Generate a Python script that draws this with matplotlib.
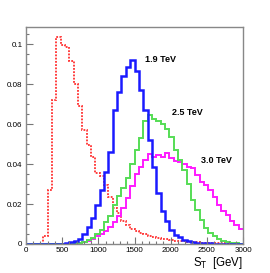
import numpy as np
import matplotlib
matplotlib.use("Agg")
import matplotlib.pyplot as plt
from matplotlib.ticker import MultipleLocator

# S_T distributions, 50 bins of 60 GeV from 0 to 3000 GeV
bin_edges = np.linspace(0, 3000, 51)

bkg = [0, 0, 0, 0, 0.004, 0.027, 0.072, 0.1035, 0.0995, 0.0985,
       0.0919, 0.080, 0.069, 0.057, 0.0495, 0.0437, 0.0355, 0.034, 0.0296, 0.0237,
       0.0182, 0.0156, 0.0116, 0.0096, 0.0076, 0.0063, 0.0056, 0.0048, 0.0042, 0.0036,
       0.0031, 0.0027, 0.0023, 0.0020, 0.0017, 0.0015, 0.0013, 0.0011, 0.0010, 0.0008,
       0.0007, 0.0006, 0.0005, 0.0005, 0.0004, 0.0004, 0.0003, 0.0003, 0.0003, 0.0002]

sig_19 = [0, 0, 0, 0, 0, 0, 0, 0, 0, 0.0003,
          0.0008, 0.0016, 0.0027, 0.005, 0.0085, 0.013, 0.0195, 0.027, 0.036, 0.046,
          0.067, 0.0761, 0.0844, 0.0885, 0.0922, 0.0869, 0.0773, 0.0673, 0.052, 0.0387,
          0.0254, 0.0163, 0.0113, 0.0071, 0.0046, 0.0033, 0.0021, 0.0013, 0.0010, 0.0007,
          0.0005, 0.0004, 0.0003, 0.0002, 0.0002, 0.0001, 0.0001, 0.0001, 0, 0]

sig_25 = [0, 0, 0, 0, 0, 0, 0, 0, 0, 0,
          0, 0.0003, 0.0007, 0.0012, 0.0018, 0.003, 0.0052, 0.007, 0.011, 0.014,
          0.0195, 0.024, 0.028, 0.0333, 0.040, 0.047, 0.053, 0.0617, 0.0645, 0.0628,
          0.0616, 0.0603, 0.0578, 0.0536, 0.047, 0.042, 0.037, 0.030, 0.022, 0.017,
          0.012, 0.008, 0.0055, 0.0038, 0.0026, 0.0016, 0.0010, 0.0006, 0.0004, 0.0002]

sig_30 = [0, 0, 0, 0, 0, 0, 0, 0, 0, 0,
          0, 0, 0.0005, 0.0010, 0.0016, 0.0025, 0.0038, 0.005, 0.0065, 0.0085,
          0.011, 0.014, 0.018, 0.023, 0.029, 0.035, 0.0385, 0.042, 0.0449, 0.0437,
          0.0444, 0.0437, 0.0454, 0.0429, 0.0415, 0.0409, 0.0399, 0.0387, 0.0379, 0.0345,
          0.0312, 0.0296, 0.0271, 0.0237, 0.0196, 0.0163, 0.0146, 0.0113, 0.0096, 0.0076]

labels = ["1.9 TeV", "2.5 TeV", "3.0 TeV"]
label_pos = [(1650, 0.0922), (2020, 0.0661), (2420, 0.042)]

plt.rcParams["font.family"] = ["Liberation Sans", "DejaVu Sans"]

fig = plt.figure(figsize=(2.7, 2.73), dpi=100)
ax = fig.add_axes([26 / 270, 1 - 244 / 273, 217 / 270, 217 / 273])

ax.stairs(bkg, bin_edges, baseline=None, color="#ff3030", lw=1.3, ls=(0, (1, 0.8)))
ax.stairs(sig_30, bin_edges, baseline=None, color="#ff1aff", lw=1.4)
ax.stairs(sig_25, bin_edges, baseline=None, color="#55dd55", lw=1.4)
ax.stairs(sig_19, bin_edges, baseline=None, color="#1a1aff", lw=1.8)

for text, (tx, ty) in zip(labels, label_pos):
    ax.text(tx, ty, text, fontsize=6.5, fontweight="bold", va="center", ha="left")

ax.set_xlim(0, 3000)
ax.set_ylim(0, 0.1087)
ax.xaxis.set_major_locator(MultipleLocator(500))
ax.xaxis.set_minor_locator(MultipleLocator(100))
ax.yaxis.set_minor_locator(MultipleLocator(0.005))
ax.set_yticks([0, 0.02, 0.04, 0.06, 0.08, 0.1])
ax.set_yticklabels(["0", "0.02", "0.04", "0.06", "0.08", "0.1"])
ax.tick_params(which="both", direction="in", labelsize=5.8, color="#777777", width=0.8)
ax.tick_params(which="major", length=5, pad=2.5)
ax.tick_params(which="minor", length=2.5)
for s in ax.spines.values():
    s.set_color("#888888")
    s.set_linewidth(1.0)

ax.set_xlabel(r"S$_{\mathrm{T}}$  [GeV]", fontsize=8.3, loc="right", labelpad=0.5)

fig.savefig("out.png", dpi=100)
